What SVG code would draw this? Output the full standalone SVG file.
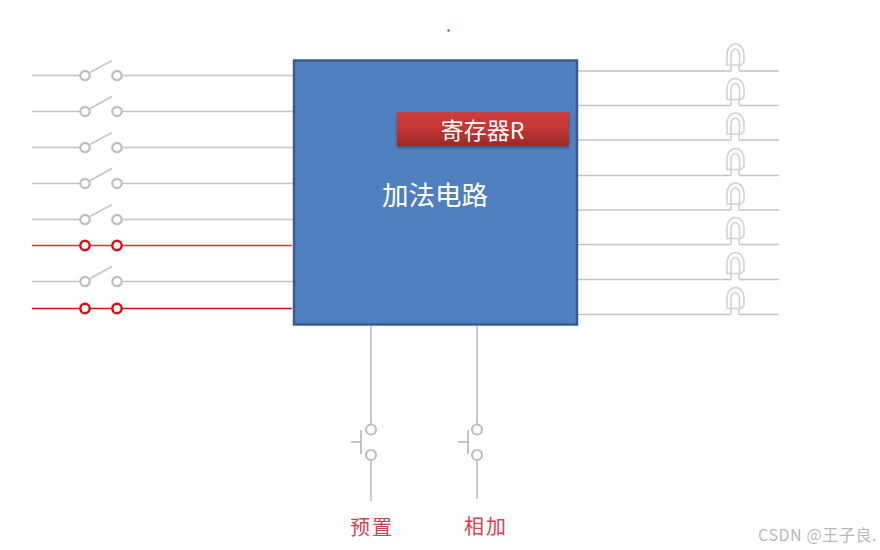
<svg xmlns="http://www.w3.org/2000/svg" width="880" height="550" viewBox="0 0 880 550">
<style>
.w{fill:none;stroke:#c4c4c4;stroke-width:1.5}
.rw{fill:none;stroke:#ee2b2a;stroke-width:1.6}
.rd{fill:none;stroke:#cc1018;stroke-width:1.6}
.c{fill:#fff;stroke:#bebebe;stroke-width:2.2}
.rc{fill:#fff;stroke:#d5121a;stroke-width:2.4}
.led{fill:#fff;stroke:#d2d2d2;stroke-width:1.6}
.bw{fill:none;stroke:#cacaca;stroke-width:2}
.b{fill:none;stroke:#b4b4b4;stroke-width:1.6}
text{font-family:"Noto Sans CJK SC","Noto Sans",sans-serif}
.lab{font-size:20px;fill:#d8404e;letter-spacing:2px}
</style>
<defs>
<linearGradient id="red" x1="0" y1="0" x2="0" y2="1"><stop offset="0" stop-color="#d03c39"/><stop offset="0.5" stop-color="#c33633"/><stop offset="1" stop-color="#982a27"/></linearGradient>
<filter id="sh" x="-5%" y="-20%" width="110%" height="150%"><feDropShadow dx="0" dy="2" stdDeviation="1.5" flood-color="#2a3f5f" flood-opacity="0.6"/></filter>
<g id="sw"><path class="w" d="M32 0H80M122 0H293M90 -3L112 -15"/><circle class="c" cx="85" cy="0" r="4.700"/><circle class="c" cx="117" cy="0" r="4.700"/></g>
<g id="swr"><path class="rw" d="M32 0H292"/><circle class="rc" cx="85" cy="0" r="4.700"/><circle class="rc" cx="117" cy="0" r="4.700"/></g>
<g id="swd"><path class="rd" d="M32 0H292"/><circle class="rc" cx="85" cy="0" r="4.700"/><circle class="rc" cx="117" cy="0" r="4.700"/></g>
<g id="led"><path class="w" d="M578 0H731M739 0H779"/><path class="led" d="M731 0V-6M739 0V-6M727 -6V-17A8.500 10 0 0 1 744 -17V-9L741 -6ZM731 -6V-16A4.200 6 0 0 1 739.500 -16V-6"/></g>
</defs>
<rect width="880" height="550" fill="#fff"/>
<g id="connectors">
<use href="#sw" y="75.500"/><use href="#sw" y="111.500"/><use href="#sw" y="147.500"/><use href="#sw" y="183.500"/><use href="#sw" y="219.500"/>
<use href="#swr" y="245.500"/><use href="#sw" y="281.500"/><use href="#swd" y="308.500"/>
<use href="#led" y="71"/><use href="#led" y="105.500"/><use href="#led" y="140"/><use href="#led" y="175.500"/><use href="#led" y="210"/><use href="#led" y="244.500"/><use href="#led" y="279.500"/><use href="#led" y="314.500"/>
<path class="bw" d="M371 325V424M371 460V501M477 325V424M477 460V499"/>
</g>
<g id="adder">
<rect x="294" y="60.500" width="283" height="264" fill="#4f7fbe" stroke="#385d8a" stroke-width="2.500"/>
<text x="435" y="205" font-size="26.500" fill="#fff" text-anchor="middle">加法电路</text>
</g>
<g id="register">
<rect x="397" y="112" width="172" height="34" fill="url(#red)" filter="url(#sh)"/>
<text x="482.500" y="138.500" font-size="23" fill="#fff" text-anchor="middle">寄存器R</text>
</g>
<g id="btn-preset">
<circle class="c" cx="371" cy="429.500" r="5"/><circle class="c" cx="371" cy="455" r="5"/>
<path class="b" d="M361 430V454M351 442H361"/>
<text class="lab" x="350" y="535">预置</text>
</g>
<g id="btn-add">
<circle class="c" cx="477" cy="429.500" r="5"/><circle class="c" cx="477" cy="455" r="5"/>
<path class="b" d="M468 430V454M458 442H468"/>
<text class="lab" x="464" y="534">相加</text>
</g>
<rect x="447.500" y="29.500" width="2" height="2" fill="#b02030"/>
<text x="758" y="541" font-size="16" letter-spacing="0.600" fill="#b8b8b8">CSDN @王子良.</text>
</svg>
